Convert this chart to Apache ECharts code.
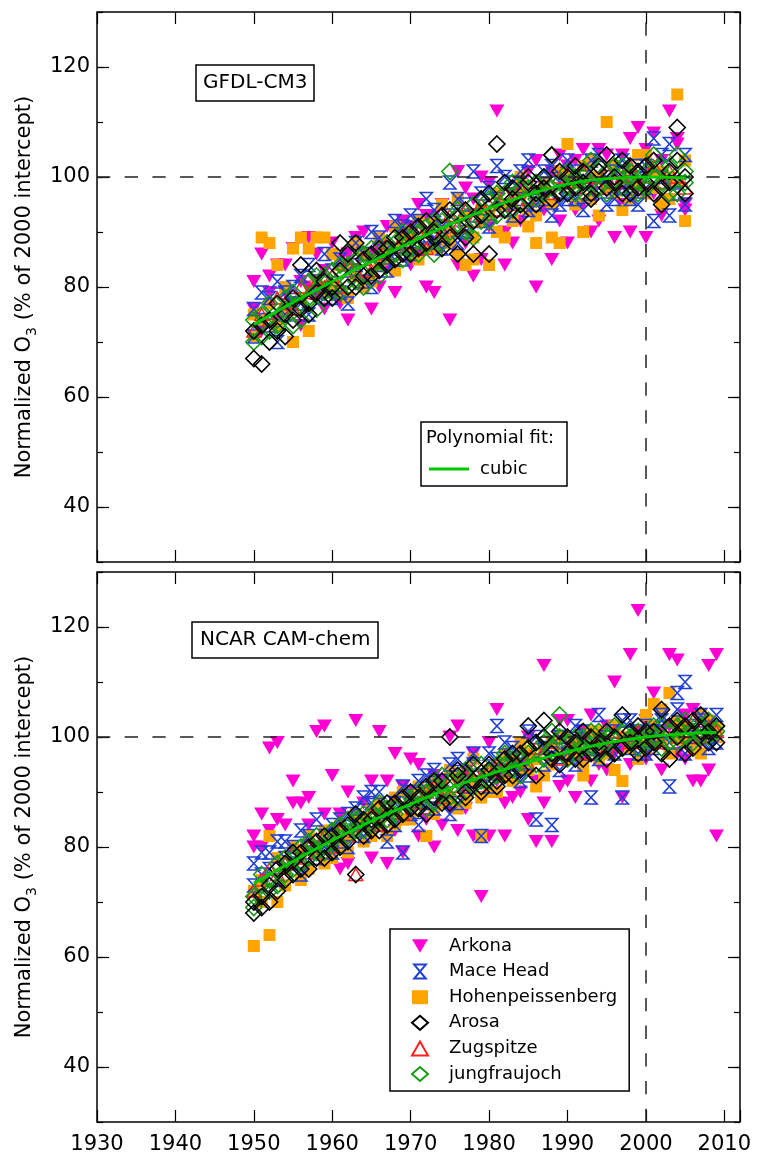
<!DOCTYPE html>
<html lang="en">
<head>
<meta charset="UTF-8">
<title>Normalized O3</title>
<script src="https://cdn.jsdelivr.net/npm/echarts@6/dist/echarts.min.js"></script>
<style>
    html, body {margin: 0; padding: 0; background: #fff;}
    #main {width: 757px; height: 1158px;}
</style>
</head>
<body>
<div id="main"></div>
<script type="text/javascript">
    // years run from firstYear, one slot per year (two values A/B for most stations)
    var firstYear = 1950;

    // GFDL-CM3 panel, 1950-2005
    var arkonaTopA = [76,86,82,84,79,87,81,89,78,83, 88,77,86,82,90,76,87,84,79,92, 84,95,80,93,87,74,101,88,96,85, 99,112,90,97,92,101,80,94,85,104, 88,103,95,90,105,98,89,104,90,109, 89,108,93,112,107,95];
    var arkonaTopB = [81,72,79,74,84,77,73,80,86,76, 79,85,74,89,81,86,80,91,83,87, 91,86,93,79,95,90,84,98,82,100, 91,96,84,88,99,94,103,97,101,92, 102,94,105,99,92,104,101,95,107,98, 105,97,103,99,106,94];
    var maceTopA = [76,79,73,81,75,80,77,84,79,86, 78,85,83,88,81,90,84,87,92,85, 93,87,96,89,91,99,88,95,101,92, 98,102,94,99,96,103,95,101,93,99, 103,96,100,97,104,95,101,98,96,102, 98,107,104,93,99,104];
    var maceTopB = [71,74,78,70,79,77,82,75,81,78, 83,79,77,84,86,80,89,83,85,91, 86,92,88,94,87,93,96,90,93,97, 91,96,100,93,101,94,98,96,102,95, 96,101,94,103,98,100,96,103,99,95, 102,92,100,106,97,95];
    var hohenTopA = [75,89,88,84,80,87,89,87,89,89, 86,79,84,88,80,82,89,85,91,90, 86,92,90,87,95,88,96,84,85,94, 84,97,89,95,100,91,88,96,89,101, 106,99,102,96,100,110,97,94,101,99, 104,98,101,96,115,92];
    var hohenTopB = [71,74,77,73,76,70,78,72,81,79, 80,84,78,82,86,81,84,87,83,88, 89,85,87,92,88,90,86,93,89,92, 93,90,95,92,97,94,93,99,95,88, 100,95,90,103,93,98,102,99,96,104, 97,101,95,100,99,103];
    var arosaTopA = [67,66,70,72,71,74,76,75,79,78, 80,83,80,88,82,86,83,87,85,89, 86,91,88,90,93,89,86,94,92,96, 86,106,94,98,95,99,97,100,104,97, 100,98,101,97,102,98,100,103,97,101, 99,103,98,101,109,100];
    var arosaTopB = [72,73,74,77,75,78,84,77,83,81, 78,88,86,80,85,82,87,84,89,86, 90,87,92,89,87,94,91,89,86,93, 97,94,99,96,93,100,95,98,96,101, 97,102,99,96,101,104,99,97,102,98, 102,97,95,99,103,97];
    var jungTopA = [70,75,72,74,78,73,77,81,76,82, 83,79,84,81,86,84,82,88,86,85, 89,86,91,92,88,101,93,90,95,92, 96,93,97,94,98,96,99,97,104,99, 101,97,100,103,98,101,99,102,100,97, 101,104,99,102,97,101];
    var jungTopB = [74,71,77,73,76,79,74,78,82,79, 79,84,81,85,80,87,85,84,88,90, 87,90,88,86,92,90,94,91,89,96, 92,97,94,99,95,98,96,100,98,97, 98,100,97,99,101,97,102,98,101,99, 98,100,102,97,104,99];
    var zugTop = [72,75,74,78,77,76,80,79,81,80, 82,80,84,83,85,83,86,88,86,89, 88,90,87,91,90,93,91,94,92,95, 95,94,97,95,98,96,99,98,97,100, 99,98,101,100,98,101,99,100,102,99, 100,102,99,101,100,98];

    // NCAR CAM-chem panel, 1950-2009
    var arkonaBotA = [82,86,98,99,84,92,88,89,101,102, 93,86,90,103,88,92,101,92,97,91, 96,95,89,93,84,100,102,87,97,71, 99,105,88,96,90,100,81,113,81,103, 92,97,101,104,95,102,110,98,115,123, 96,108,101,115,114,96,105,92,113,115];
    var arkonaBotB = [80,80,83,85,76,88,78,84,79,86, 79,76,77,85,81,78,86,77,83,79, 90,82,85,80,92,87,83,94,82,89, 82,92,82,89,95,85,92,88,99,91, 103,89,96,92,100,94,97,89,95,101, 103,99,94,102,97,104,92,99,94,82];
    var maceBotA = [77,75,79,81,78,80,83,79,85,82, 84,81,86,83,89,90,90,87,84,91, 86,92,88,94,90,86,96,92,95,82, 97,102,99,95,92,101,85,98,84,100, 97,102,99,89,104,98,101,89,103,97, 102,98,104,91,108,110,102,104,100,104];
    var maceBotB = [73,79,76,74,81,77,75,82,78,80, 79,85,80,87,82,88,84,81,88,79, 90,84,93,87,92,95,88,91,97,93, 91,96,94,98,96,93,100,95,97,94, 99,95,101,97,96,100,97,103,98,101, 97,101,103,99,105,97,100,103,98,99];
    var hohenBotA = [62,74,64,78,76,80,74,82,79,77, 83,80,82,86,81,87,84,82,89,85, 87,91,82,92,88,94,87,90,96,89, 94,90,97,92,99,94,91,98,95,100, 96,99,93,98,101,97,94,100,98,99, 104,106,99,108,100,102,98,104,101,100];
    var hohenBotB = [72,70,82,70,73,77,79,76,80,83, 78,84,79,83,85,82,88,86,84,90, 85,88,90,86,91,89,93,88,92,82, 90,95,93,96,94,97,96,93,99,97, 100,97,95,101,96,99,102,92,100,96, 98,102,105,97,103,99,101,97,103,102];
    var arosaBotA = [68,71,70,72,77,75,79,76,81,78, 82,80,84,75,85,83,87,84,88,86, 90,87,91,89,92,88,93,90,95,91, 94,92,96,93,97,102,99,103,96,101, 97,99,96,100,98,101,97,104,99,102, 98,101,105,102,100,97,103,101,99,102];
    var arosaBotB = [70,69,73,76,74,79,76,80,78,82, 79,83,81,86,82,85,83,88,85,89, 87,89,86,92,88,100,94,89,92,90, 95,91,93,97,94,98,93,100,97,95, 100,96,101,97,99,96,100,98,101,97, 101,99,97,96,103,102,98,104,101,99];
    var jungBotA = [71,73,72,77,75,78,77,81,79,80, 81,84,82,85,83,86,85,87,86,89, 88,90,87,91,93,89,92,94,91,95, 92,95,97,94,96,98,95,99,101,104, 99,97,100,98,101,99,97,101,100,98, 100,102,98,101,99,103,101,100,103,102];
    var jungBotB = [69,75,74,73,78,76,80,78,82,79, 83,80,85,83,86,84,88,85,87,86, 89,87,90,88,90,92,89,93,95,92, 94,93,95,96,93,97,99,96,98,100, 96,100,98,101,97,100,102,98,99,101, 99,100,102,99,102,100,99,102,100,101];
    var zugBot = [72,74,76,75,77,79,78,80,79,82, 80,83,82,75,84,86,84,87,88,86, 89,88,90,91,89,92,91,93,94,92, 94,95,94,96,97,95,98,97,99,96, 98,99,97,100,99,98,101,100,99,101, 100,101,99,102,100,101,103,100,102,101];

    // cubic fits
    var fitYearsTop = [1950, 1955, 1960, 1965, 1970, 1975, 1980, 1985, 1990, 1995, 2000, 2005];
    var fitTop = [73.2, 77.2, 81.0, 84.6, 88.1, 91.4, 94.3, 96.8, 98.7, 99.7, 100.0, 99.8];
    var fitYearsBot = [1950, 1955, 1960, 1965, 1970, 1975, 1980, 1985, 1990, 1995, 2000, 2005, 2009];
    var fitBot = [73.4, 77.4, 81.2, 84.7, 87.8, 90.7, 93.2, 95.4, 97.3, 98.9, 100.0, 100.6, 100.8];

    var legendOrder = ['Arkona', 'Mace Head', 'Hohenpeissenberg', 'Arosa', 'Zugspitze', 'jungfraujoch'];
    var yTicks = [40, 60, 80, 100, 120];

    var FONT = 'DejaVu Sans';
    var CLEAR = 'rgba(0,0,0,0)';
    var FIT = '#00c800';

    var look = {
        'Arkona': {symbol: 'path://M0,0L14,0L7,12Z', size: [15, 13], itemStyle: {color: '#ff00d4', opacity: 1}},
        'Mace Head': {symbol: 'path://M0,0L10,0L0,12L10,12Z', size: [12, 13], itemStyle: {color: CLEAR, borderColor: '#1f3fd6', borderWidth: 1.6, opacity: 1}},
        'Hohenpeissenberg': {symbol: 'rect', size: 12, itemStyle: {color: '#ffa500', opacity: 1}},
        'Arosa': {symbol: 'diamond', size: 16, itemStyle: {color: CLEAR, borderColor: '#000', borderWidth: 1.6, opacity: 1}},
        'Zugspitze': {symbol: 'triangle', size: [14, 12], itemStyle: {color: CLEAR, borderColor: '#ff2020', borderWidth: 1.4, opacity: 1}},
        'jungfraujoch': {symbol: 'diamond', size: 16, itemStyle: {color: CLEAR, borderColor: '#159a15', borderWidth: 1.6, opacity: 1}}
    };

    function pts(a, b) {
        var out = [];
        for (var i = 0; i < a.length; i++) {
            out.push([firstYear + i, a[i]]);
            if (b) out.push([firstYear + i, b[i]]);
        }
        return out;
    }

    function pairs(xs, ys) {
        return xs.map(function (x, i) { return [x, ys[i]]; });
    }

    function xAxes(grid, labels) {
        var base = {
            type: 'value', gridIndex: grid, min: 1930, max: 2012, interval: 10,
            axisLine: {show: false}, splitLine: {show: false},
            axisTick: {inside: true, length: 12, lineStyle: {color: '#000', width: 1.2}}
        };
        return [
            Object.assign({}, base, {
                position: 'bottom',
                axisLabel: {
                    show: labels, margin: 12, fontSize: 21, color: '#000', fontFamily: FONT,
                    formatter: function (v) { return v % 10 === 0 ? String(v) : ''; }
                }
            }),
            Object.assign({}, base, {position: 'top', axisLabel: {show: false}})
        ];
    }

    function yAxes(grid) {
        var base = {
            type: 'value', gridIndex: grid, min: 30, max: 130,
            axisLine: {show: false}, splitLine: {show: false}
        };
        var minorTick = {inside: true, length: 6, lineStyle: {color: '#000', width: 1.2}};
        var majorTick = {inside: true, length: 12, customValues: yTicks, lineStyle: {color: '#000', width: 1.2}};
        return [
            Object.assign({}, base, {
                position: 'left', interval: 10, axisTick: minorTick,
                axisLabel: {
                    margin: 7, fontSize: 21, color: '#000', fontFamily: FONT,
                    formatter: function (v) { return yTicks.indexOf(v) >= 0 ? String(v) : ''; }
                },
                name: '{a|Normalized O}{s|3}{a| (% of 2000 intercept)}',
                nameLocation: 'middle', nameGap: 56,
                nameTextStyle: {
                    color: '#000', fontFamily: FONT,
                    rich: {
                        a: {fontSize: 21, lineHeight: 28, fontFamily: FONT, color: '#000'},
                        s: {fontSize: 14, lineHeight: 12, verticalAlign: 'bottom', fontFamily: FONT, color: '#000'}
                    }
                }
            }),
            Object.assign({}, base, {position: 'left', axisTick: majorTick, axisLabel: {show: false}}),
            Object.assign({}, base, {position: 'right', interval: 10, axisTick: minorTick, axisLabel: {show: false}}),
            Object.assign({}, base, {position: 'right', axisTick: majorTick, axisLabel: {show: false}})
        ];
    }

    function scatter(name, data, grid, withRefs) {
        var s = {
            name: name, type: 'scatter', data: data,
            xAxisIndex: grid * 2, yAxisIndex: grid * 4,
            symbol: look[name].symbol, symbolSize: look[name].size,
            itemStyle: look[name].itemStyle,
            silent: true
        };
        if (withRefs) {
            s.markLine = {
                silent: true, symbol: 'none', label: {show: false},
                lineStyle: {color: '#222', type: [13.3, 14.4], width: 1.5, opacity: 1},
                data: [{yAxis: 100}, {xAxis: 2000}]
            };
        }
        return s;
    }

    function fitLine(data, grid) {
        return {
            name: 'cubic', type: 'line', data: data, smooth: true,
            xAxisIndex: grid * 2, yAxisIndex: grid * 4,
            symbol: 'none', silent: true, z: 5,
            lineStyle: {color: FIT, width: 3},
            itemStyle: {color: FIT}
        };
    }

    var series = [
        scatter('Arkona', pts(arkonaTopA, arkonaTopB), 0, true),
        scatter('Hohenpeissenberg', pts(hohenTopA, hohenTopB), 0),
        scatter('Mace Head', pts(maceTopA, maceTopB), 0),
        scatter('Zugspitze', pts(zugTop), 0),
        scatter('jungfraujoch', pts(jungTopA, jungTopB), 0),
        scatter('Arosa', pts(arosaTopA, arosaTopB), 0),
        fitLine(pairs(fitYearsTop, fitTop), 0),

        scatter('Arkona', pts(arkonaBotA, arkonaBotB), 1, true),
        scatter('Hohenpeissenberg', pts(hohenBotA, hohenBotB), 1),
        scatter('Mace Head', pts(maceBotA, maceBotB), 1),
        scatter('Zugspitze', pts(zugBot), 1),
        scatter('jungfraujoch', pts(jungBotA, jungBotB), 1),
        scatter('Arosa', pts(arosaBotA, arosaBotB), 1),
        fitLine(pairs(fitYearsBot, fitBot), 1)
    ];

    var myChart = echarts.init(document.getElementById('main'));

    var option = {
        animation: false,
        backgroundColor: '#fff',
        textStyle: {fontFamily: FONT},
        title: [
            {
                text: 'GFDL-CM3', left: 196, top: 65, padding: [5, 7],
                borderColor: '#000', borderWidth: 1.5,
                textStyle: {fontSize: 20, fontWeight: 'normal', color: '#000', fontFamily: FONT, lineHeight: 26}
            },
            {
                text: 'NCAR CAM-chem', left: 192, top: 622, padding: [5, 8],
                borderColor: '#000', borderWidth: 1.5,
                textStyle: {fontSize: 20, fontWeight: 'normal', color: '#000', fontFamily: FONT, lineHeight: 26}
            }
        ],
        grid: [
            {left: 97, top: 12, width: 643, height: 550, show: true, borderColor: '#000', borderWidth: 1.5, backgroundColor: CLEAR},
            {left: 97, top: 572, width: 643, height: 550, show: true, borderColor: '#000', borderWidth: 1.5, backgroundColor: CLEAR}
        ],
        xAxis: xAxes(0, false).concat(xAxes(1, true)),
        yAxis: yAxes(0).concat(yAxes(1)),
        legend: [
            {
                data: legendOrder, orient: 'vertical', left: 390, top: 929,
                padding: [8, 12, 8, 21], itemWidth: 16, itemHeight: 14, itemGap: 7.6,
                borderColor: '#000', borderWidth: 1.5, backgroundColor: '#fff',
                selectedMode: false,
                textStyle: {fontSize: 18, color: '#000', fontFamily: FONT, lineHeight: 18, padding: [0, 0, 0, 16]}
            },
            {
                data: [{name: 'cubic', icon: 'path://M0,0L40,0L40,3L0,3Z'}],
                left: 429, top: 460, padding: 0,
                itemWidth: 40, itemHeight: 3, selectedMode: false,
                itemStyle: {color: FIT},
                textStyle: {fontSize: 18, color: '#000', fontFamily: FONT, lineHeight: 18, padding: [0, 0, 0, 6]}
            }
        ],
        graphic: [
            {
                type: 'rect', shape: {x: 421, y: 422, width: 146, height: 64},
                style: {fill: '#fff', stroke: '#000', lineWidth: 1.5}
            },
            {
                type: 'text', x: 426, y: 438,
                style: {text: 'Polynomial fit:', font: '18px "DejaVu Sans"', fill: '#000', verticalAlign: 'middle'}
            }
        ],
        series: series
    };

    myChart.setOption(option);
</script>
</body>
</html>
